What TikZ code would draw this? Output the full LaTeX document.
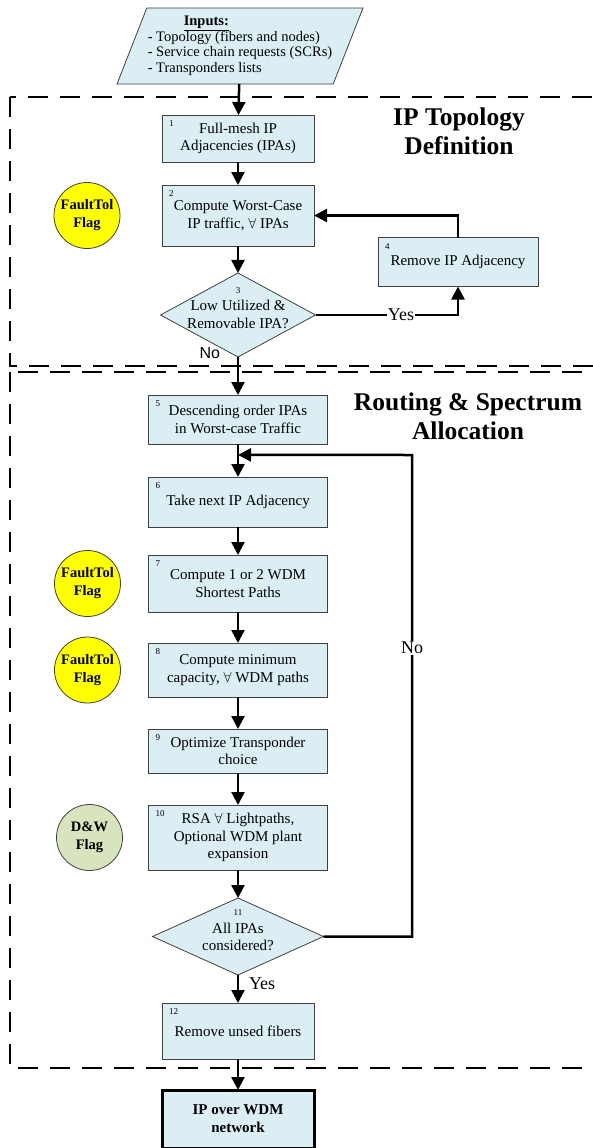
\documentclass[tikz,border=0pt]{standalone}
\usepackage{fontspec}
\setmainfont{Liberation Serif}
\setsansfont{Liberation Sans}
\usetikzlibrary{shapes.geometric, positioning, arrows.meta, calc}

\definecolor{boxblue}{HTML}{DAEEF3}
\definecolor{boxline}{HTML}{404040}
\definecolor{flagyellow}{HTML}{FFFF00}
\definecolor{flaggreen}{HTML}{D7E4BD}

\begin{document}
\begin{tikzpicture}[x=1pt,y=-1pt,->,>={Triangle[length=13pt,width=13pt]},
		line width=2.5pt,font=\fontsize{15}{17.5}\selectfont,
		every node/.style={outer sep=0pt},
		process/.style={rectangle,draw=boxline,line width=0.8pt,fill=boxblue,
			align=center,inner sep=2pt,minimum width=179pt},
		decision/.style={diamond,draw=boxline,line width=0.8pt,fill=boxblue,inner sep=0pt},
		inputs/.style={trapezium,trapezium left angle=64,trapezium right angle=116,
			trapezium stretches body,draw=boxline,line width=0.8pt,fill=boxblue,
			align=left,inner sep=1pt,minimum width=246pt,minimum height=76pt,
			font=\fontsize{14.5}{15.5}\selectfont},
		flag/.style={circle,draw=boxline,line width=0.8pt,fill=flagyellow,
			minimum size=66pt,inner sep=0pt,align=center,
			font=\bfseries\fontsize{14.5}{18}\selectfont},
		result/.style={process,draw=black,line width=3pt,minimum width=152pt,
			minimum height=58pt,font=\bfseries\fontsize{15}{18}\selectfont},
		title/.style={align=center,font=\bfseries\fontsize{25.5}{29}\selectfont},
		num/.style={font=\fontsize{9}{10}\selectfont,inner sep=0pt},
		numbered/.style={label={[num,anchor=north west,xshift=7pt,yshift=-6pt]north west:#1}},
		lbl/.style={fill=white,inner sep=1pt,font=\fontsize{18}{20}\selectfont},
		frame/.style={-,dashed,line width=2.5pt,dash pattern=on 20pt off 12pt}]

  \useasboundingbox (0,0) rectangle (593,1148);

  % dashed stages
  \draw[frame] (10,97) rectangle (640,366);
  \draw[frame] (10,372) rectangle (640,1068);
  \node[title] (ttl_ip) at (459,131) {IP Topology\\Definition};
  \node[title] (ttl_rsa) at (468,416) {Routing \& Spectrum\\Allocation};

  % main column
  \node[inputs] (inp) at (240,46) {\hspace*{36pt}\underline{\textbf{Inputs:}}\\
		- Topology (fibers and nodes)\\- Service chain requests (SCRs)\\- Transponders lists};
  \node[process,numbered=1,minimum width=152pt,minimum height=47pt] (b1) at (238,138.5)
		{Full-mesh IP\\Adjacencies (IPAs)};
  \node[process,numbered=2,minimum width=152pt,minimum height=61pt] (b2) [below=23pt of b1]
		{Compute Worst-Case\\IP traffic, $\forall$ IPAs};
  \node[decision,minimum width=155pt,minimum height=84pt] (d3) [below=27pt of b2] {};
  \node[align=center] (d3_txt) at ([yshift=7pt]d3.center)
		{{\fontsize{9}{10}\selectfont 3}\\Low Utilized \&\\Removable IPA?};
  \node[process,numbered=4,minimum width=160pt,minimum height=49pt] (b4) at (458,262)
		{Remove IP Adjacency};
  \node[process,numbered=5,minimum height=49pt] (b5) [below=38pt of d3]
		{Descending order IPAs\\in Worst-case Traffic};
  \node[process,numbered=6,minimum height=50pt] (b6) [below=33pt of b5]
		{Take next IP Adjacency};
  \node[process,numbered=7,minimum height=57pt] (b7) [below=28pt of b6]
		{Compute 1 or 2 WDM\\Shortest Paths};
  \node[process,numbered=8,minimum height=54pt] (b8) [below=31pt of b7]
		{Compute minimum\\capacity, $\forall$ WDM paths};
  \node[process,numbered=9,minimum height=44pt] (b9) [below=32pt of b8]
		{Optimize Transponder\\choice};
  \node[process,numbered=10,minimum height=65pt] (b10) [below=32pt of b9]
		{RSA $\forall$ Lightpaths,\\Optional WDM plant\\expansion};
  \node[decision,minimum width=171pt,minimum height=77pt] (d11) [below=28pt of b10] {};
  \node[align=center] (d11_txt) at ([yshift=6pt]d11.center)
		{{\fontsize{9}{10}\selectfont 11}\\All IPAs\\considered?};
  \node[process,numbered=12,minimum width=152pt,minimum height=56pt] (b12) [below=28pt of d11]
		{Remove unsed fibers};
  \node[result] (out) [below=31pt of b12] {IP over WDM\\network};

  % flags
  \node[flag] (flag_ip) [left=42pt of b2] {FaultTol\\Flag};
  \node[flag] (flag_sp) [left=28pt of b7] {FaultTol\\Flag};
  \node[flag] (flag_cap) [left=28pt of b8] {FaultTol\\Flag};
  \node[flag,fill=flaggreen] (flag_dw) [left=26pt of b10] {D\&W\\Flag};

  \coordinate (join) at ($(b5.south)!0.33!(b6.north)$);
  \coordinate (loop) at (412,455);

  \path (inp) edge (b1)
		(b1) edge (b2)
		(b2) edge (d3)
		(d3) edge node[pos=0,left=18pt,yshift=4pt,inner sep=0pt,
			font=\sffamily\fontsize{16}{18}\selectfont] {No} (b5)
		(b5) edge (b6)
		(b6) edge (b7)
		(b7) edge (b8)
		(b8) edge (b9)
		(b9) edge (b10)
		(b10) edge (d11)
		(d11) edge node[pos=0.3,right=10pt,lbl,fill=none] {Yes} (b12)
		(b12) edge (out);

  \draw (d3.east) -| node[lbl,pos=0.3] {Yes} (b4.south);
  \draw (b4.north) |- (b2.east);
  \draw (d11.east) -| node[lbl,pos=0.8] {No} (loop) -- (join);

\end{tikzpicture}
\end{document}
